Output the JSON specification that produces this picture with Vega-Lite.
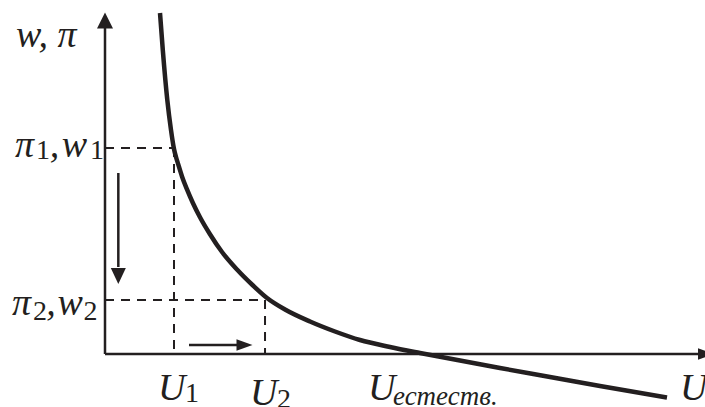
{
  "$schema": "https://vega.github.io/schema/vega-lite/v6.json",
  "width": 705,
  "height": 407,
  "autosize": "none",
  "padding": 0,
  "background": "white",
  "config": {"view": {"stroke": null}},
  "datasets": {
    "curve": [
      {"x": 0.9167, "y": 5.6833},
      {"x": 0.9633, "y": 5.0667},
      {"x": 1.0383, "y": 4.2333},
      {"x": 1.1, "y": 3.7333},
      {"x": 1.15, "y": 3.4167},
      {"x": 1.1833, "y": 3.2833},
      {"x": 1.2167, "y": 3.1733},
      {"x": 1.2833, "y": 2.96},
      {"x": 1.3667, "y": 2.7433},
      {"x": 1.4667, "y": 2.5133},
      {"x": 1.5833, "y": 2.28},
      {"x": 1.75, "y": 1.9967},
      {"x": 1.95, "y": 1.7},
      {"x": 2.2, "y": 1.4083},
      {"x": 2.4667, "y": 1.1417},
      {"x": 2.7, "y": 0.9333},
      {"x": 3.0, "y": 0.7417},
      {"x": 3.4167, "y": 0.5417},
      {"x": 3.8333, "y": 0.375},
      {"x": 4.25, "y": 0.2333},
      {"x": 4.75, "y": 0.1167},
      {"x": 5.25, "y": 0.0167},
      {"x": 5.9167, "y": -0.1083},
      {"x": 6.5833, "y": -0.2333},
      {"x": 7.4167, "y": -0.3833},
      {"x": 8.25, "y": -0.5333},
      {"x": 9.3667, "y": -0.725}
    ],
    "guides": [
      {"x": 0, "y": 3.433, "x2": 1.15, "y2": 3.433},
      {"x": 1.15, "y": 3.433, "x2": 1.15, "y2": 0},
      {"x": 0, "y": 0.9, "x2": 2.667, "y2": 0.9},
      {"x": 2.667, "y": 0.9, "x2": 2.667, "y2": 0}
    ],
    "axes": [
      {"x": 0, "y": 0, "x2": 0, "y2": 5.45},
      {"x": 0, "y": 0, "x2": 9.9, "y2": 0}
    ],
    "shifts": [
      {"x": 0.222, "y": 3.017, "x2": 0.222, "y2": 1.45},
      {"x": 1.4, "y": 0.15, "x2": 2.2, "y2": 0.15}
    ],
    "heads": [
      {"x": 0, "y": 5.558, "dir": "up"},
      {"x": 0.222, "y": 1.3, "dir": "down"},
      {"x": 2.325, "y": 0.15, "dir": "right"},
      {"x": 10.017, "y": 0, "dir": "right"}
    ],
    "labels": [
      {"x": -1.483, "y": 5.117, "text": "w, π", "kind": "main"},
      {"x": -1.5, "y": 3.283, "text": "π", "kind": "main"},
      {"x": -1.15, "y": 3.25, "text": "1", "kind": "sub"},
      {"x": -0.92, "y": 3.283, "text": ",", "kind": "main"},
      {"x": -0.72, "y": 3.283, "text": "w", "kind": "main"},
      {"x": -0.25, "y": 3.25, "text": "1", "kind": "sub"},
      {"x": -1.55, "y": 0.65, "text": "π", "kind": "main"},
      {"x": -1.2, "y": 0.567, "text": "2", "kind": "sub"},
      {"x": -0.98, "y": 0.65, "text": ",", "kind": "main"},
      {"x": -0.79, "y": 0.65, "text": "w", "kind": "main"},
      {"x": -0.36, "y": 0.567, "text": "2", "kind": "sub"},
      {"x": 0.883, "y": -0.767, "text": "U", "kind": "main"},
      {"x": 1.333, "y": -0.8, "text": "1", "kind": "sub"},
      {"x": 2.417, "y": -0.85, "text": "U", "kind": "main"},
      {"x": 2.867, "y": -0.9, "text": "2", "kind": "sub"},
      {"x": 4.383, "y": -0.767, "text": "U", "kind": "main"},
      {"x": 4.8, "y": -0.85, "text": "естеств.", "kind": "subword"},
      {"x": 9.583, "y": -0.767, "text": "U", "kind": "main"}
    ]
  },
  "encoding": {
    "x": {"field": "x", "type": "quantitative", "axis": null,
          "scale": {"domain": [-1.75, 10], "nice": false, "zero": false}},
    "y": {"field": "y", "type": "quantitative", "axis": null,
          "scale": {"domain": [-0.8833, 5.9], "nice": false, "zero": false}}
  },
  "layer": [
    {
      "data": {"name": "guides"},
      "mark": {"type": "rule", "color": "#231f20", "strokeWidth": 2, "strokeDash": [9, 7]},
      "encoding": {"x2": {"field": "x2"}, "y2": {"field": "y2"}}
    },
    {
      "data": {"name": "axes"},
      "mark": {"type": "rule", "color": "#231f20", "strokeWidth": 2.5},
      "encoding": {"x2": {"field": "x2"}, "y2": {"field": "y2"}}
    },
    {
      "data": {"name": "shifts"},
      "mark": {"type": "rule", "color": "#231f20", "strokeWidth": 2.5},
      "encoding": {"x2": {"field": "x2"}, "y2": {"field": "y2"}}
    },
    {
      "data": {"name": "heads"},
      "mark": {"type": "point", "filled": true, "opacity": 1, "color": "#231f20", "size": 256, "strokeWidth": 0},
      "encoding": {
        "shape": {"field": "dir", "type": "nominal", "legend": null,
                  "scale": {"domain": ["up", "down", "right"],
                            "range": ["M0,-1L1,1L-1,1Z", "M0,1L0.94,-1L-0.94,-1Z", "M1,0L-1,0.72L-1,-0.72Z"]}}
      }
    },
    {
      "data": {"name": "curve"},
      "mark": {"type": "line", "color": "#231f20", "strokeWidth": 4.5, "interpolate": "monotone"}
    },
    {
      "data": {"name": "labels"},
      "transform": [{"filter": "datum.kind === 'main'"}],
      "mark": {"type": "text", "font": "Liberation Serif", "fontStyle": "italic", "fontSize": 38,
               "align": "left", "baseline": "alphabetic", "color": "#231f20"},
      "encoding": {"text": {"field": "text"}}
    },
    {
      "data": {"name": "labels"},
      "transform": [{"filter": "datum.kind === 'sub'"}],
      "mark": {"type": "text", "font": "Liberation Serif", "fontSize": 28,
               "align": "left", "baseline": "alphabetic", "color": "#231f20"},
      "encoding": {"text": {"field": "text"}}
    },
    {
      "data": {"name": "labels"},
      "transform": [{"filter": "datum.kind === 'subword'"}],
      "mark": {"type": "text", "font": "Liberation Serif", "fontStyle": "italic", "fontSize": 27,
               "align": "left", "baseline": "alphabetic", "color": "#231f20"},
      "encoding": {"text": {"field": "text"}}
    }
  ]
}
